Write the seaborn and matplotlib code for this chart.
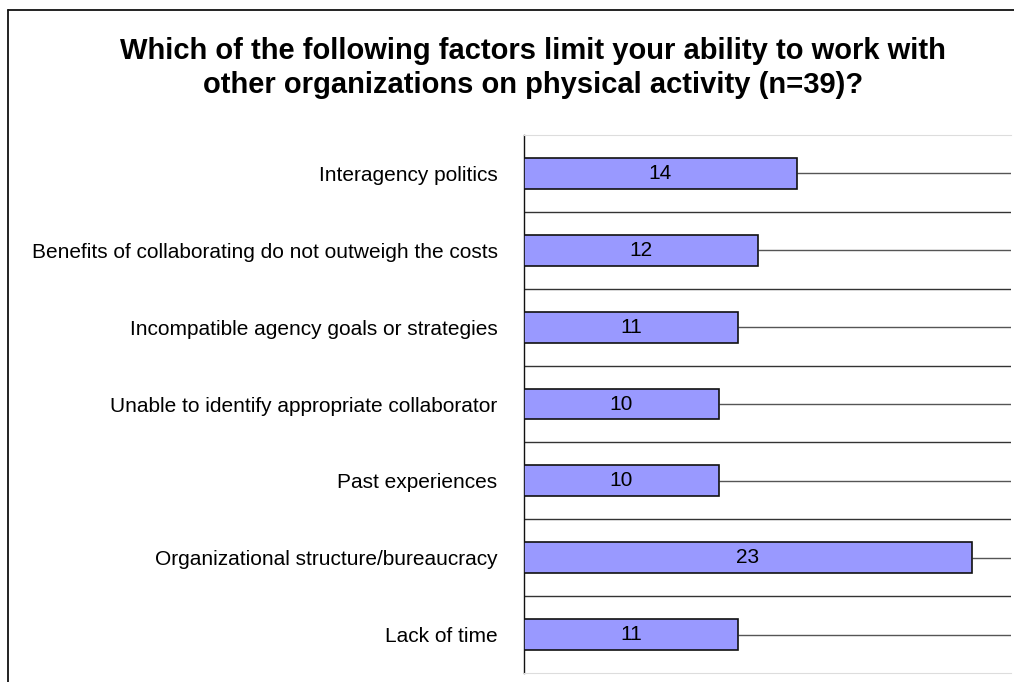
import matplotlib
matplotlib.use("Agg")
import matplotlib.pyplot as plt
import seaborn as sns
import pandas as pd
import numpy as np
from matplotlib.lines import Line2D

categories = [
    "Interagency politics",
    "Benefits of collaborating do not outweigh the costs",
    "Incompatible agency goals or strategies",
    "Unable to identify appropriate collaborator",
    "Past experiences",
    "Organizational structure/bureaucracy",
    "Lack of time",
]
counts = [14, 12, 11, 10, 10, 23, 11]
title = ("Which of the following factors limit your ability to work with\n"
         "other organizations on physical activity (n=39)?")
x_max = 25

sns.set_style("white")
plt.rcParams['font.family'] = ['Liberation Sans', 'DejaVu Sans']
plt.rcParams['text.color'] = 'black'
plt.rcParams['ytick.labelcolor'] = 'black'

W, H = 1014, 682
fig = plt.figure(figsize=(W / 100, H / 100), dpi=100)
ax = fig.add_axes([524 / W, 1 - 673 / H, (1011 - 524) / W, (673 - 135) / H])

df = pd.DataFrame({"category": categories, "count": counts})
sns.barplot(data=df, y="category", x="count", orient="h", color="#9999FF",
            edgecolor="#111111", linewidth=1.2, width=0.4, saturation=1,
            ax=ax, zorder=3)

n = len(categories)
# lines from each bar end to the right edge
for i, v in enumerate(counts):
    ax.hlines(i, v, x_max, color="#555555", lw=1.0, zorder=1)
# boundary lines between categories
for b in np.arange(0.5, n - 1, 1.0):
    ax.axhline(b, color="#333333", lw=1.0, zorder=1)

ax.set_xlim(0, x_max)
ax.set_ylim(n - 0.5, -0.5)
ax.set_xticks([])
ax.set_xlabel("")
ax.set_ylabel("")
ax.set_yticks(range(n))
ax.set_yticklabels(categories, fontsize=15, color="black")
ax.tick_params(axis="y", which="major", length=0, pad=19)
ax.set_yticks(np.arange(-0.5, n, 1.0), minor=True)
ax.tick_params(axis="y", which="minor", length=7, width=1, direction="out", color="#222222")

ax.spines["right"].set_visible(False)
ax.spines["top"].set_color("#dddddd")
ax.spines["bottom"].set_color("#dddddd")
ax.spines["left"].set_color("#111111")
ax.spines["left"].set_linewidth(1.0)

for i, v in enumerate(counts):
    ax.text(v / 2, i, str(v), ha="center", va="center", fontsize=15,
            color="black", zorder=4)

fig.text(533 / W, 1 - 68 / H, title, ha="center", va="center", fontsize=21,
         fontweight="bold", linespacing=1.3, color="black")

# outer chart frame (left and top edges visible)
fig.add_artist(Line2D([8 / W, 8 / W], [0, 1 - 10 / H], transform=fig.transFigure,
                      color="#111111", lw=1.3))
fig.add_artist(Line2D([8 / W, 1], [1 - 10 / H, 1 - 10 / H], transform=fig.transFigure,
                      color="#111111", lw=1.3))

fig.savefig("out.png", dpi=100)
